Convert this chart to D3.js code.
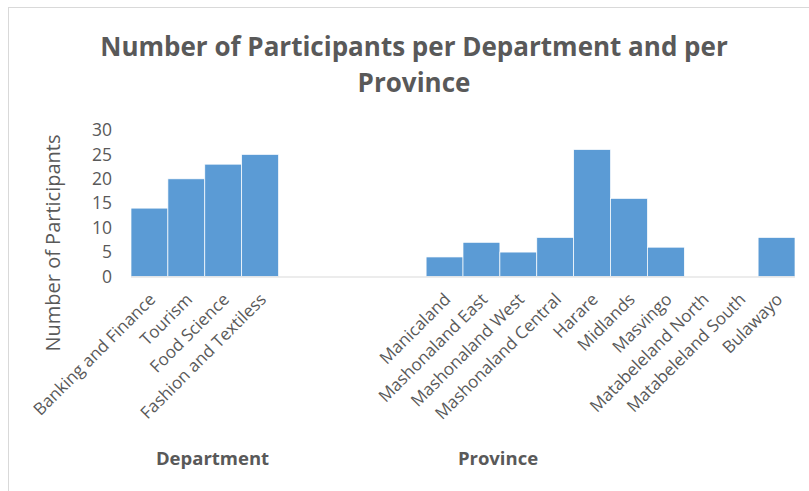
<!DOCTYPE html>
<html>
<head>
<meta charset="utf-8">
<script src="https://cdn.jsdelivr.net/npm/d3@7"></script>
<style>
  html, body { margin: 0; padding: 0; background: #fff; }
  svg { display: block; font-family: "Open Sans", sans-serif; }
</style>
</head>
<body>
<svg id="chart" width="809" height="491"></svg>
<script>
// ---- Data ----
const departments = ["Banking and Finance", "Tourism", "Food Science", "Fashion and Textiless"];
const departmentValues = [14, 20, 23, 25];
const provinces = ["Manicaland", "Mashonaland East", "Mashonaland West", "Mashonaland Central", "Harare", "Midlands", "Masvingo", "Matabeleland North", "Matabeleland South", "Bulawayo"];
const provinceValues = [4, 7, 5, 8, 26, 16, 6, 0, 0, 8];
const gapSlots = ["gap1", "gap2", "gap3", "gap4"];
const yTicks = [0, 5, 10, 15, 20, 25, 30];
const titleLines = ["Number of Participants per Department and per", "Province"];
const yTitle = "Number of Participants";
const groupTitles = ["Department", "Province"];

// ---- Build rows ----
const rows = [];
departments.forEach((d, i) => rows.push({ key: d, label: d, value: departmentValues[i] }));
gapSlots.forEach(g => rows.push({ key: g, label: "", value: null }));
provinces.forEach((p, i) => rows.push({ key: p, label: p, value: provinceValues[i] }));

const svg = d3.select("#chart");
const W = 809, H = 491;
const textColor = "#595959";

// chart border
svg.append("rect").attr("x", 8.5).attr("y", 7.5).attr("width", W + 10).attr("height", H + 10)
  .attr("fill", "none").attr("stroke", "#d9d9d9").attr("stroke-width", 1);

const plot = { left: 131, right: 795, top: 130, bottom: 276.5 };

const x = d3.scaleBand().domain(rows.map(r => r.key)).range([plot.left, plot.right]).padding(0);
const y = d3.scaleLinear().domain([0, 30]).range([plot.bottom, plot.top]);

// title
svg.append("text").attr("x", 414).attr("y", 56).attr("text-anchor", "middle")
  .attr("font-size", 26).attr("font-weight", "bold").attr("fill", textColor)
  .selectAll("tspan").data(titleLines).join("tspan")
  .attr("x", 414).attr("dy", (d, i) => i === 0 ? 0 : 36).text(d => d);

// bars
svg.append("g").selectAll("rect")
  .data(rows.filter(r => r.value !== null && r.value > 0))
  .join("rect")
  .attr("x", d => x(d.key))
  .attr("y", d => y(d.value))
  .attr("width", x.bandwidth())
  .attr("height", d => y(0) - y(d.value))
  .attr("fill", "#5b9bd5")
  .attr("stroke", "#ffffff")
  .attr("stroke-width", 0.7);

// x axis line
svg.append("line").attr("x1", plot.left).attr("x2", plot.right)
  .attr("y1", y(0) + 0.5).attr("y2", y(0) + 0.5)
  .attr("stroke", "#d9d9d9").attr("stroke-width", 1);

// y axis ticks (labels only)
const yAxis = d3.axisLeft(y).tickValues(yTicks).tickSize(0).tickPadding(0);
const yg = svg.append("g").attr("transform", `translate(112,0)`).call(yAxis);
yg.select(".domain").remove();
yg.selectAll("text").attr("font-size", 17.5).attr("fill", textColor)
  .attr("font-family", "\"Open Sans\", sans-serif");

// x axis labels
const xAxis = d3.axisBottom(x).tickSize(0).tickFormat(k => rows.find(r => r.key === k).label);
const xg = svg.append("g").attr("transform", `translate(0,${y(0)})`).call(xAxis);
xg.select(".domain").remove();
xg.selectAll("text")
  .attr("font-size", 17).attr("fill", textColor)
  .attr("font-family", "\"Open Sans\", sans-serif")
  .attr("text-anchor", "end")
  .attr("dy", null).attr("y", null)
  .attr("transform", "translate(7,24) rotate(-45)");

// y title
svg.append("text").attr("transform", "translate(60,243) rotate(-90)")
  .attr("text-anchor", "middle").attr("font-size", 20).attr("fill", textColor)
  .text(yTitle);

// group titles
const groupX = [212.5, 498];
svg.append("g").selectAll("text").data(groupTitles).join("text")
  .attr("x", (d, i) => groupX[i]).attr("y", 465)
  .attr("text-anchor", "middle").attr("font-size", 18.5).attr("font-weight", "bold")
  .attr("fill", textColor).text(d => d);
</script>
</body>
</html>
